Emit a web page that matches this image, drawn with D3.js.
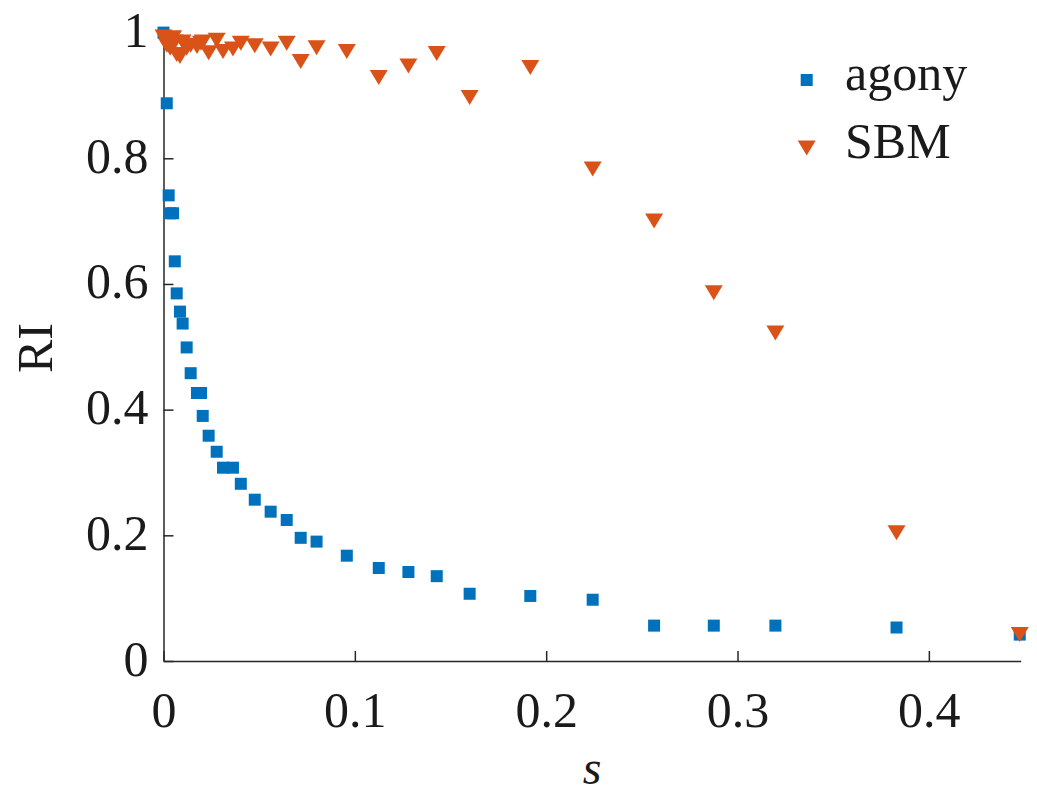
<!DOCTYPE html>
<html>
<head>
<meta charset="utf-8">
<script src="https://cdn.jsdelivr.net/npm/d3@7"></script>
<style>
  body { margin: 0; background: #fff; }
  text { font-family: "Liberation Serif", "DejaVu Serif", serif; fill: #1a1a1a; }
</style>
</head>
<body>
<script>
//data
const sValues = [0, 0.0017, 0.0027, 0.0035, 0.005, 0.0059, 0.0069, 0.0086, 0.010, 0.0121,
  0.0142, 0.0175, 0.0196, 0.0205, 0.0236, 0.0278, 0.0311, 0.0363, 0.0404, 0.0477,
  0.056, 0.0644, 0.0717, 0.080, 0.0958, 0.1125, 0.128, 0.1428, 0.160, 0.1917,
  0.2243, 0.2564, 0.2876, 0.3198, 0.3831, 0.4475];

const agonyRI = [1.0, 0.8875, 0.741, 0.7125, 0.7125, 0.636, 0.585, 0.556, 0.537, 0.499,
  0.458, 0.4265, 0.4265, 0.390, 0.3585, 0.333, 0.3076, 0.3076, 0.282, 0.2567,
  0.2376, 0.2244, 0.196, 0.19, 0.1676, 0.148, 0.1416, 0.135, 0.107, 0.1035,
  0.0975, 0.0563, 0.0563, 0.0563, 0.0533, 0.042];

const sbmRI = [0.993, 0.98, 0.99, 0.975, 0.992, 0.985, 0.965, 0.962, 0.985, 0.975,
  0.98, 0.978, 0.983, 0.985, 0.968, 0.988, 0.97, 0.974, 0.983, 0.979,
  0.974, 0.983, 0.954, 0.976, 0.970, 0.9285, 0.947, 0.9667, 0.8967, 0.9445,
  0.783, 0.70, 0.586, 0.522, 0.204, 0.042];

const xTicks = [0, 0.1, 0.2, 0.3, 0.4];
const yTicks = [0, 0.2, 0.4, 0.6, 0.8, 1];
const seriesNames = ["agony", "SBM"];
const colors = ["#0072BD", "#D95319"];

const w = 1037;
const h = 795;

const svg = d3.select("body")
  .append("svg")
  .attr("width", w)
  .attr("height", h);

//scales
const xScale = d3.scaleLinear()
  .domain([0, 0.448])
  .range([163.5, 1020.7]);

const yScale = d3.scaleLinear()
  .domain([0, 1])
  .range([661, 32.6]);

//axes with inward ticks
const xAxis = d3.axisBottom(xScale)
  .tickValues(xTicks)
  .tickFormat(d3.format("~g"))
  .tickSizeInner(-10)
  .tickSizeOuter(0)
  .tickPadding(30);

const yAxis = d3.axisLeft(yScale)
  .tickValues(yTicks)
  .tickFormat(d3.format("~g"))
  .tickSizeInner(-10)
  .tickSizeOuter(0)
  .tickPadding(15);

const gx = svg.append("g")
  .attr("transform", "translate(0," + yScale(0) + ")")
  .call(xAxis);

const gy = svg.append("g")
  .attr("transform", "translate(" + xScale(0) + ",0)")
  .call(yAxis);

[gx, gy].forEach(function(g) {
  g.select(".domain").attr("stroke", "#262626").attr("stroke-width", 1.5);
  g.selectAll(".tick line").attr("stroke", "#262626").attr("stroke-width", 1.5);
  g.selectAll(".tick text")
    .attr("fill", "#1a1a1a")
    .style("font-family", "'Liberation Serif', serif")
    .style("font-size", "50px");
});
gy.selectAll(".tick text").attr("dy", "0.28em");

//axis titles
svg.append("text")
  .attr("transform", "translate(52,348) rotate(-90)")
  .attr("text-anchor", "middle")
  .style("font-size", "50px")
  .text("RI");

svg.append("text")
  .attr("x", 592)
  .attr("y", 784)
  .attr("text-anchor", "middle")
  .style("font-size", "48px")
  .style("font-style", "italic")
  .text("s");

//markers
function trianglePath(cx, cy) {
  const hw = 9, hh = 7.5;
  return "M" + (cx - hw) + "," + (cy - hh) + "L" + (cx + hw) + "," + (cy - hh) + "L" + cx + "," + (cy + hh) + "Z";
}

svg.selectAll(".agony")
  .data(sValues)
  .enter()
  .append("rect")
  .attr("class", "agony")
  .attr("x", (d) => xScale(d) - 6)
  .attr("y", (d, i) => yScale(agonyRI[i]) - 6)
  .attr("width", 12)
  .attr("height", 12)
  .style("fill", colors[0]);

svg.selectAll(".sbm")
  .data(sValues)
  .enter()
  .append("path")
  .attr("class", "sbm")
  .attr("d", (d, i) => trianglePath(xScale(d), yScale(sbmRI[i])))
  .style("fill", colors[1]);

//legend
const legend = svg.selectAll(".legend")
  .data(seriesNames)
  .enter()
  .append("g")
  .attr("class", "legend")
  .attr("transform", (d, i) => "translate(0," + (i * 68) + ")");

legend.each(function(d, i) {
  const g = d3.select(this);
  if (i == 0) {
    g.append("rect")
      .attr("x", 800.7)
      .attr("y", 74)
      .attr("width", 12)
      .attr("height", 12)
      .style("fill", colors[0]);
  } else {
    g.append("path")
      .attr("d", trianglePath(806.7, 80))
      .style("fill", colors[1]);
  }
});

legend.append("text")
  .attr("x", 845)
  .attr("y", 90)
  .style("font-size", "50px")
  .text((d) => d);
</script>
</body>
</html>
